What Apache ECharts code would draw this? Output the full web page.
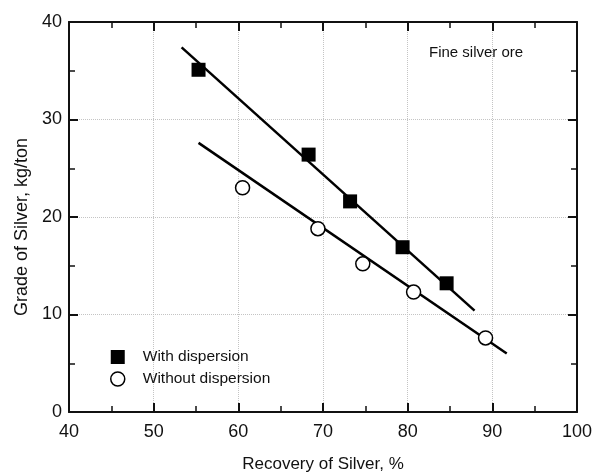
<!DOCTYPE html>
<html>
<head>
<meta charset="utf-8">
<script src="https://cdn.jsdelivr.net/npm/echarts@6/dist/echarts.min.js"></script>
<style>
  html, body { margin: 0; padding: 0; background: #fff; }
  #chart { width: 593px; height: 472px; }
</style>
</head>
<body>
<div id="chart"></div>
<script>
var withDispersion = [[55.3, 35.1], [68.3, 26.4], [73.2, 21.6], [79.4, 16.9], [84.6, 13.2]];
var withoutDispersion = [[60.5, 23.0], [69.4, 18.8], [74.7, 15.2], [80.7, 12.3], [89.2, 7.6]];
var withFit = [[53.3, 37.4], [87.9, 10.4]];
var withoutFit = [[55.3, 27.6], [91.7, 6.0]];

var font = 'Liberation Sans, Arial, sans-serif';
var chart = echarts.init(document.getElementById('chart'));

function xAx(pos, labels) {
  return {
    type: 'value', position: pos, min: 40, max: 100, interval: 10,
    name: labels ? 'Recovery of Silver, %' : '',
    nameLocation: 'middle', nameGap: 44,
    nameTextStyle: { fontFamily: font, fontSize: 17, color: '#111' },
    axisLine: { show: true, onZero: false, lineStyle: { color: '#111', width: 2 } },
    axisTick: { show: true, inside: true, length: 9, lineStyle: { color: '#111', width: 2 } },
    minorTick: { show: true, splitNumber: 2, length: 6, lineStyle: { color: '#111', width: 1.5 } },
    axisLabel: { show: labels, fontFamily: font, fontSize: 18, color: '#111', margin: 11 },
    splitLine: { show: labels, lineStyle: { color: '#c4c4c4', type: 'dotted', width: 1 } }
  };
}
function yAx(pos, labels) {
  return {
    type: 'value', position: pos, min: 0, max: 40, interval: 10,
    name: labels ? 'Grade of Silver, kg/ton' : '',
    nameLocation: 'middle', nameGap: 37,
    nameTextStyle: { fontFamily: font, fontSize: 18, color: '#111', padding: [0, 20, 0, 0] },
    axisLine: { show: true, onZero: false, lineStyle: { color: '#111', width: 2 } },
    axisTick: { show: true, inside: true, length: 9, lineStyle: { color: '#111', width: 2 } },
    minorTick: { show: true, splitNumber: 2, length: 6, lineStyle: { color: '#111', width: 1.5 } },
    axisLabel: { show: labels, fontFamily: font, fontSize: 18, color: '#111', margin: 7 },
    splitLine: { show: labels, lineStyle: { color: '#c4c4c4', type: 'dotted', width: 1 } }
  };
}

var option = {
  backgroundColor: '#fff',
  animation: false,
  grid: { left: 69, right: 16, top: 22, bottom: 60, containLabel: false, outerBoundsMode: 'none' },
  xAxis: [xAx('bottom', true), xAx('top', false)],
  yAxis: [yAx('left', true), yAx('right', false)],
  legend: {
    orient: 'vertical', left: 105, top: 344, itemGap: 6,
    itemWidth: 14, itemHeight: 14,
    textStyle: { fontFamily: font, fontSize: 15.5, color: '#111', padding: [0, 0, 0, 13] },
    data: [
      { name: 'With dispersion', icon: 'rect', itemStyle: { color: '#000' } },
      { name: 'Without dispersion', icon: 'circle', itemStyle: { color: '#fff', borderColor: '#000', borderWidth: 1.5 } }
    ]
  },
  graphic: [{
    type: 'text', left: 429, top: 45,
    style: { text: 'Fine silver ore', fontFamily: font, fontSize: 15, fill: '#111' }
  }],
  series: [
    { type: 'line', data: withFit, showSymbol: false, silent: true,
      lineStyle: { color: '#000', width: 2.5 }, z: 2 },
    { type: 'line', data: withoutFit, showSymbol: false, silent: true,
      lineStyle: { color: '#000', width: 2.5 }, z: 2 },
    { name: 'With dispersion', type: 'scatter', data: withDispersion,
      symbol: 'rect', symbolSize: 14, itemStyle: { color: '#000', opacity: 1 }, z: 3 },
    { name: 'Without dispersion', type: 'scatter', data: withoutDispersion,
      symbol: 'circle', symbolSize: 14,
      itemStyle: { color: '#fff', borderColor: '#000', borderWidth: 1.5, opacity: 1 }, z: 3 }
  ]
};
chart.setOption(option);
</script>
</body>
</html>
